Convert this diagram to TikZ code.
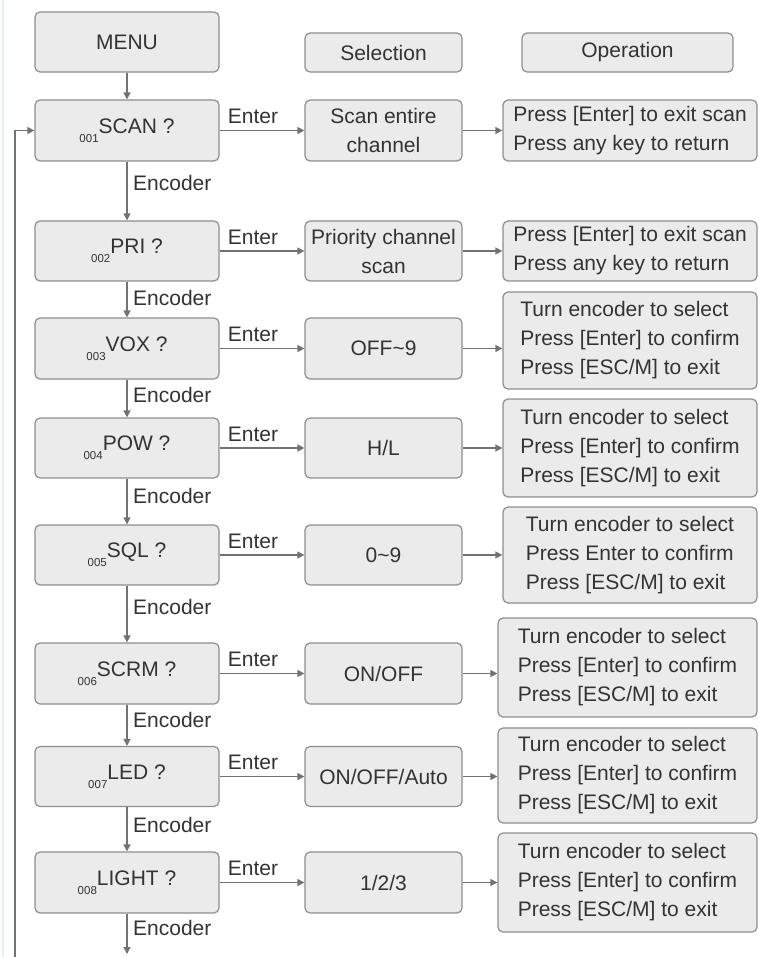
\documentclass[tikz,border=0pt]{standalone}
\usepackage{fontspec}
\setmainfont{Liberation Sans}
\usetikzlibrary{arrows.meta}
\definecolor{boxfill}{HTML}{EBEBEB}
\definecolor{boxline}{HTML}{8E8E8E}
\definecolor{linec}{HTML}{727272}
\definecolor{txt}{HTML}{333333}
\definecolor{edgegreen}{HTML}{E4F2E8}
\newcommand{\idx}[1]{\raisebox{-9pt}{\fontsize{11.5}{12}\selectfont #1}}
\begin{document}
\begin{tikzpicture}[x=1pt,y=-1pt,
  box/.style={draw=boxline, fill=boxfill, line width=1.2pt, rounded corners=5pt,
    inner sep=0pt, text=txt, font=\fontsize{21}{29}\selectfont, align=center},
  menubox/.style={box, minimum width=184pt, minimum height=60pt},
  selbox/.style={box, minimum width=157pt, minimum height=60pt},
  opbox/.style={box, align=left},
  lbl/.style={text=txt, font=\fontsize{21}{25}\selectfont, inner sep=0pt},
  arr/.style={draw=linec, line width=1.3pt, -{Triangle[width=7pt,length=7pt]}},
]
\useasboundingbox (0,0) rectangle (758,957);
\draw[edgegreen, line width=2pt] (3,0) -- (3,957);

% headers
\node[menubox] (menu) at (127,42) {MENU};
\node[box, minimum width=157pt, minimum height=39pt] (hsel) at (383.5,52.5) {Selection};
\node[box, minimum width=211pt, minimum height=39pt] (hop) at (627.5,52.5) {Operation};

% left column
\node[menubox, minimum height=61pt] (m1) at (127,130.5) {\idx{001}SCAN ?};
\node[menubox] (m2) at (127,251) {\idx{002}PRI ?};
\node[menubox, minimum height=61pt] (m3) at (127,348.5) {\idx{003}VOX ?};
\node[menubox] (m4) at (127,448) {\idx{004}POW ?};
\node[menubox] (m5) at (127,555) {\idx{005}SQL ?};
\node[menubox, minimum height=61pt] (m6) at (127,673.5) {\idx{006}SCRM ?};
\node[menubox] (m7) at (127,776.5) {\idx{007}LED ?};
\node[menubox, minimum height=61pt] (m8) at (127,882.5) {\idx{008}LIGHT ?};

% selection column
\node[selbox, minimum height=61pt] (s1) at (383.5,130.5) {Scan entire\\channel};
\node[selbox] (s2) at (383.5,251) {Priority channel\\scan};
\node[selbox, minimum height=61pt] (s3) at (383.5,348.5) {OFF\textasciitilde9};
\node[selbox] (s4) at (383.5,448) {H/L};
\node[selbox] (s5) at (383.5,555) {0\textasciitilde9};
\node[selbox, minimum height=61pt] (s6) at (383.5,673.5) {ON/OFF};
\node[selbox] (s7) at (383.5,776.5) {ON/OFF/Auto};
\node[selbox, minimum height=61pt] (s8) at (383.5,882.5) {1/2/3};

% operation column
\node[opbox, minimum width=254pt, minimum height=61pt] (o1) at (630,130.5)
  {Press [Enter] to exit scan\\Press any key to return};
\node[opbox, minimum width=254pt, minimum height=60pt] (o2) at (630,251)
  {Press [Enter] to exit scan\\Press any key to return};
\node[opbox, minimum width=254pt, minimum height=97pt] (o3) at (630,340.5)
  {Turn encoder to select\\Press [Enter] to confirm\\Press [ESC/M] to exit};
\node[opbox, minimum width=254pt, minimum height=98pt] (o4) at (630,448)
  {Turn encoder to select\\Press [Enter] to confirm\\Press [ESC/M] to exit};
\node[opbox, minimum width=254pt, minimum height=96pt] (o5) at (630,555)
  {Turn encoder to select\\Press Enter to confirm\\Press [ESC/M] to exit};
\node[opbox, minimum width=259pt, minimum height=99pt] (o6) at (627.5,667.5)
  {Turn encoder to select\\Press [Enter] to confirm\\Press [ESC/M] to exit};
\node[opbox, minimum width=259pt, minimum height=95pt] (o7) at (627.5,775.5)
  {Turn encoder to select\\Press [Enter] to confirm\\Press [ESC/M] to exit};
\node[opbox, minimum width=259pt, minimum height=99pt] (o8) at (627.5,882.5)
  {Turn encoder to select\\Press [Enter] to confirm\\Press [ESC/M] to exit};

% vertical encoder arrows
\draw[arr] (menu.south) -- (m1.north);
\draw[arr] (m1.south) -- (m2.north);
\draw[arr] (m2.south) -- (m3.north);
\draw[arr] (m3.south) -- (m4.north);
\draw[arr] (m4.south) -- (m5.north);
\draw[arr] (m5.south) -- (m6.north);
\draw[arr] (m6.south) -- (m7.north);
\draw[arr] (m7.south) -- (m8.north);
\coordinate (bot) at (127,954);
\draw[arr] (m8.south) -- (bot);

\node[lbl, anchor=west] (e1) at (133,183) {Encoder};
\node[lbl, anchor=west] (e2) at (133,298) {Encoder};
\node[lbl, anchor=west] (e3) at (133,395) {Encoder};
\node[lbl, anchor=west] (e4) at (133,496) {Encoder};
\node[lbl, anchor=west] (e5) at (133,607) {Encoder};
\node[lbl, anchor=west] (e6) at (133,720) {Encoder};
\node[lbl, anchor=west] (e7) at (133,825) {Encoder};
\node[lbl, anchor=west] (e8) at (133,928) {Encoder};

% feedback line
\coordinate (fb) at (15,957);
\draw[arr] (fb) |- (m1.west);

% enter arrows and selection->operation arrows
\foreach \i in {1,...,8}{
  \draw[arr] (m\i.east) -- node[lbl, above=6pt, xshift=-9pt] (en\i) {Enter} (s\i.west);
  \draw[arr] (s\i.east) -- (s\i.east -| o\i.west);
}
\end{tikzpicture}
\end{document}
